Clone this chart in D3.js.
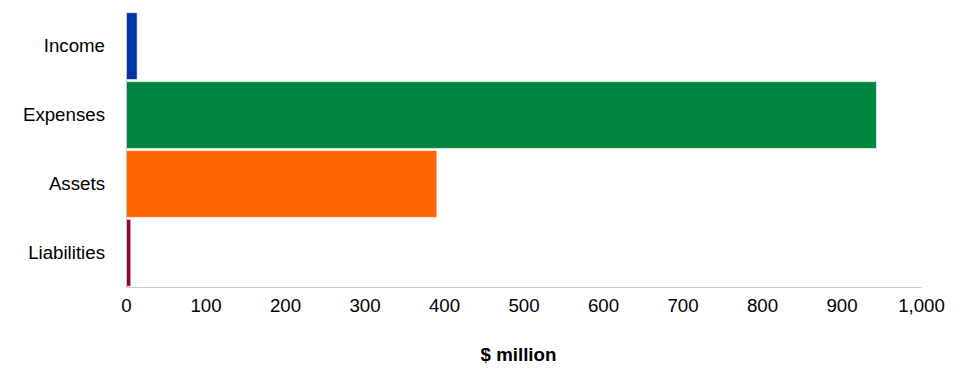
<!DOCTYPE html>
<html><head><meta charset="utf-8">
<script src="https://cdn.jsdelivr.net/npm/d3@7"></script>
<style>body{margin:0;background:#fff;} text{font-family:"Liberation Sans",Arial,sans-serif;}</style>
</head><body><svg id="c" width="967" height="375"></svg>
<script>
const categories = ["Income","Expenses","Assets","Liabilities"];
const values = [14, 944, 391, 6];
const colors = ["#0033AA","#00873F","#FF6600","#990033"];
const ticks = [0,100,200,300,400,500,600,700,800,900,1000];
const xTitle = "$ million";

const svg = d3.select("#c");
const m = {left:126, right:46, top:12, bottom:88};
const W = 967, H = 375;
const FS = 18.7;
const x = d3.scaleLinear().domain([0,1000]).range([m.left, W-m.right]);
const y = d3.scaleBand().domain(categories).range([m.top, H-m.bottom]).paddingInner(0.03).paddingOuter(0.01);

svg.selectAll("rect.bar").data(categories).join("rect")
  .attr("class","bar")
  .attr("x", x(0)).attr("y", d=>y(d))
  .attr("width", (d,i)=>x(values[i])-x(0))
  .attr("height", y.bandwidth())
  .attr("fill", (d,i)=>colors[i])
  .attr("stroke","#fff").attr("stroke-opacity",0.6).attr("stroke-width",1);

const xAxis = svg.append("g").attr("transform",`translate(0,${H-m.bottom})`)
  .call(d3.axisBottom(x).tickValues(ticks).tickSize(0).tickPadding(12).tickFormat(d3.format(",")));
xAxis.select(".domain").attr("stroke","#c8c8c8");
xAxis.selectAll("text").attr("font-size",FS).attr("fill","#000").attr("font-family","Liberation Sans, Arial, sans-serif");

const yAxis = svg.append("g").attr("transform",`translate(${m.left},0)`)
  .call(d3.axisLeft(y).tickSize(0).tickPadding(21));
yAxis.select(".domain").attr("stroke","#c8c8c8");
yAxis.selectAll("text").attr("font-size",FS).attr("fill","#000").attr("font-family","Liberation Sans, Arial, sans-serif");

svg.append("text").attr("x",(x(0)+x(1000))/2 - 5).attr("y",361)
  .attr("text-anchor","middle").attr("font-weight","bold").attr("font-size",FS).text(xTitle);
</script></body></html>
